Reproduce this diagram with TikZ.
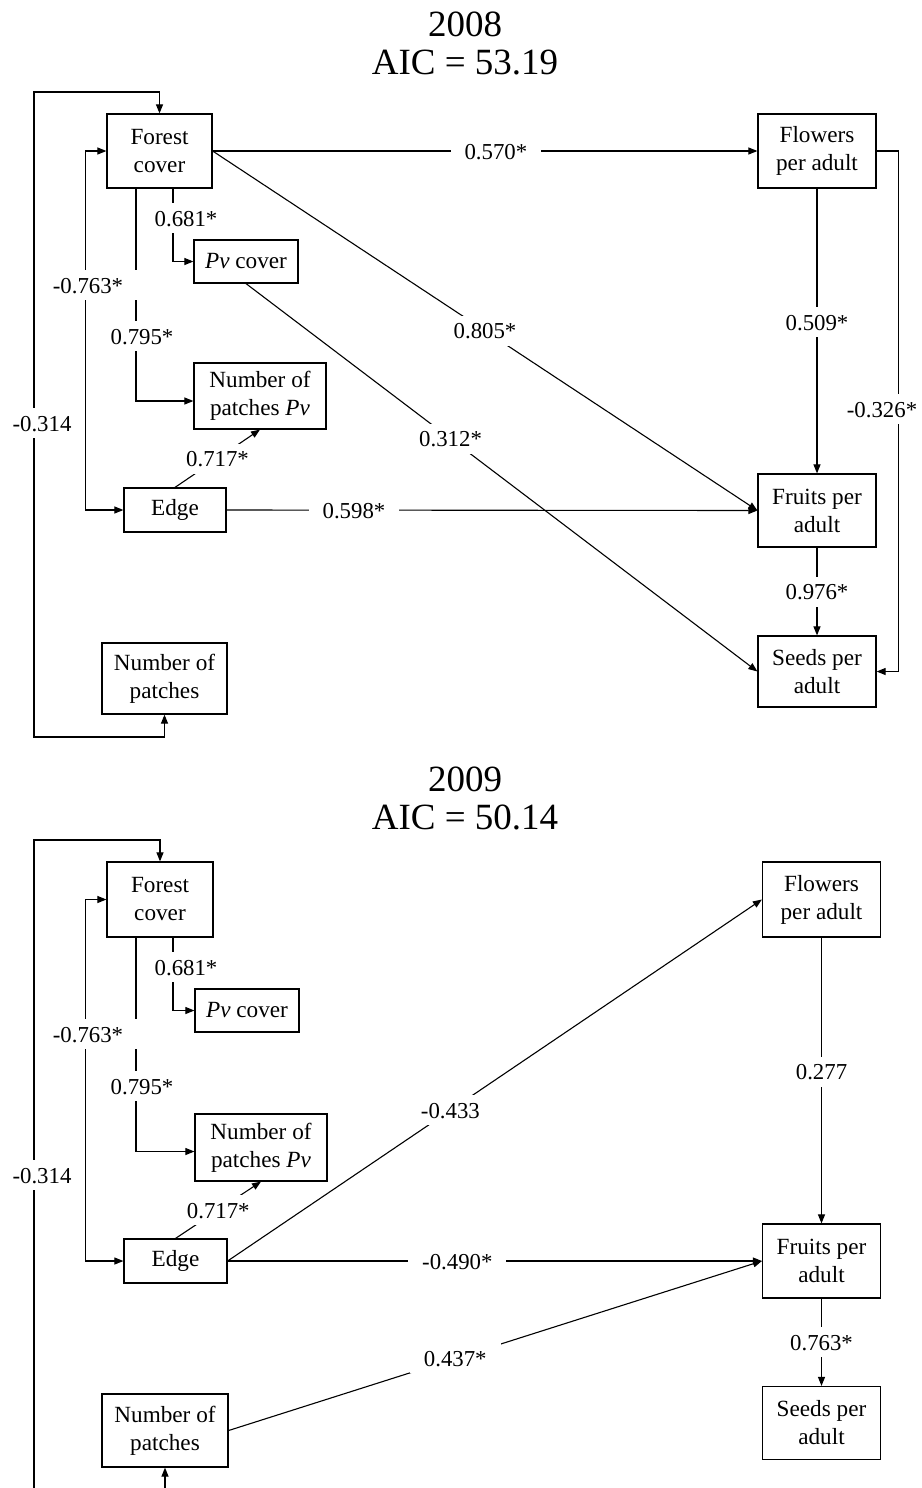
\documentclass[tikz,border=0pt]{standalone}
\usepackage{fontspec}
\setmainfont{Liberation Serif}
\usetikzlibrary{arrows.meta}

\tikzset{
  box/.style 2 args={draw, line width=0.6pt, minimum width=#1, minimum height=#2,
    inner sep=0pt, align=center, font=\fontsize{11.6}{14}\selectfont},
  coef/.style={fill=white, inner xsep=7pt, inner ysep=3.5pt, text height=8pt, text depth=0pt,
    font=\fontsize{11.4}{14}\selectfont},
  title/.style={align=center, font=\fontsize{18.5}{19}\selectfont},
  arr/.style={line width=0.55pt, -{Triangle[length=4.5pt,width=3.5pt]}},
  darr/.style={line width=0.55pt, {Triangle[length=4.5pt,width=3.5pt]}-{Triangle[length=4.5pt,width=3.5pt]}}
}

\begin{document}
\begin{tikzpicture}[x=0.5pt, y=-0.5pt]
\useasboundingbox (0,0) rectangle (921,1488);
\clip (0,0) rectangle (921,1488);

% ---------------- 2008 ----------------
\node[title] (t08) at (465,43) {2008\\AIC = 53.19};

% Boxes
\node[box={52.5pt}{37pt}] (forest) at (159.5,151) {Forest\\cover};
\node[box={59pt}{37pt}] (flowers) at (817,151) {Flowers\\per adult};
\node[box={52pt}{21.5pt}] (pvcov) at (246,261.5) {\textit{Pv} cover};
\node[box={66pt}{33pt}] (npv) at (260,396) {Number of\\patches \textit{Pv}};
\node[box={51pt}{22pt}] (edge) at (175,510) {Edge};
\node[box={59pt}{36.5pt}] (fruits) at (817,510.5) {Fruits per\\adult};
\node[box={59pt}{35.5pt}] (seeds) at (817,671.5) {Seeds per\\adult};
\node[box={62.5pt}{35.5pt}] (npatch) at (164.5,678.5) {Number of\\patches};

% Paths
\coordinate (lpbot) at (34,737);
\coordinate (lptop) at (34,92);
\draw[darr] (npatch.south) |- (lpbot) -- (lptop) -| (forest.north);
\draw[darr] (forest.west) -- ++(-21,0) |- (edge.west);
\draw[arr] (forest.south) ++(13.5,0) |- (pvcov.west);
\draw[arr] (forest.south) ++(-23.5,0) |- ([yshift=-2.5pt]npv.west);
\draw[arr] (edge.north) -- (npv.south) node[coef, midway] (c717) {0.717*};
\draw[arr] (forest.east) -- (flowers.west) node[coef, pos=0.52] (c570) {0.570*};
\draw[arr] (forest.east) -- (fruits.west) node[coef, midway] (c805) {0.805*};
\draw[arr] (pvcov.south) -- (seeds.west) node[coef, pos=0.4] (c312) {0.312*};
\draw[arr] (edge.east) -- (fruits.west) node[coef, pos=0.24] (c598) {0.598*};
\draw[arr] (flowers.south) -- (fruits.north) node[coef, pos=0.47] (c509) {0.509*};
\draw[arr] (fruits.south) -- (seeds.north) node[coef, midway] (c976) {0.976*};
\draw[arr] (flowers.east) -- ++(22,0) |- (seeds.east);

% Labels on bent paths
\node[coef] (c681) at (186,218) {0.681*};
\node[coef] (c795) at (142,336) {0.795*};
\node[coef] (c763) at (88,285) {-0.763*};
\node[coef] (c314) at (42,423) {-0.314};
\node[coef] (c326) at (882,409) {-0.326*};

% ---------------- 2009 ----------------
\node[title] (t09) at (465,798) {2009\\AIC = 50.14};

% Boxes
\node[box={53pt}{37.5pt}] (forestB) at (160,899.5) {Forest\\cover};
\node[box={59pt}{37.5pt}] (flowersB) at (821.5,899.5) {Flowers\\per adult};
\node[box={52pt}{21.5pt}] (pvcovB) at (247,1010.5) {\textit{Pv} cover};
\node[box={66pt}{33.5pt}] (npvB) at (261,1147.5) {Number of\\patches \textit{Pv}};
\node[box={51.5pt}{22pt}] (edgeB) at (175.5,1261) {Edge};
\node[box={59pt}{37pt}] (fruitsB) at (821.5,1261) {Fruits per\\adult};
\node[box={59pt}{36.5pt}] (seedsB) at (821.5,1423) {Seeds per\\adult};
\node[box={63pt}{36.5pt}] (npatchB) at (165,1430.5) {Number of\\patches};

% Paths
\coordinate (lpbotB) at (34,1530);
\coordinate (lptopB) at (34,840);
\draw[darr] (npatchB.south) |- (lpbotB) -- (lptopB) -| (forestB.north);
\draw[darr] (forestB.west) -- ++(-21,0) |- (edgeB.west);
\draw[arr] (forestB.south) ++(13,0) |- (pvcovB.west);
\draw[arr] (forestB.south) ++(-24,0) |- ([yshift=-2pt]npvB.west);
\draw[arr] (edgeB.north) -- (npvB.south) node[coef, midway] (d717) {0.717*};
\draw[arr] (edgeB.east) -- (flowersB.west) node[coef, pos=0.417] (d433) {-0.433};
\draw[arr] (edgeB.east) -- (fruitsB.west) node[coef, pos=0.43] (d490) {-0.490*};
\draw[arr] (npatchB.east) -- (fruitsB.west) node[coef, pos=0.425] (d437) {0.437*};
\draw[arr] (flowersB.south) -- (fruitsB.north) node[coef, pos=0.47] (d277) {0.277};
\draw[arr] (fruitsB.south) -- (seedsB.north) node[coef, midway] (d763s) {0.763*};

% Labels on bent paths
\node[coef] (d681) at (186,967) {0.681*};
\node[coef] (d795) at (142,1086) {0.795*};
\node[coef] (d763) at (88,1034) {-0.763*};
\node[coef] (d314) at (42,1175) {-0.314};
\end{tikzpicture}
\end{document}
